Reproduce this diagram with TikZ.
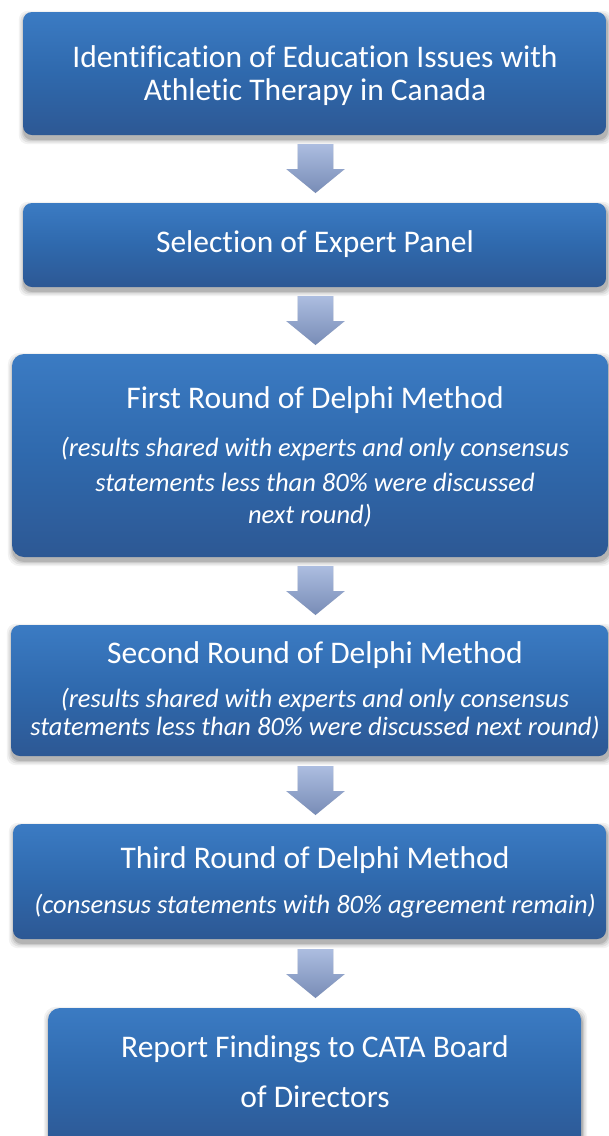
\documentclass[tikz,border=0pt]{standalone}
\usepackage{fontspec}
\setmainfont{Carlito}[Ligatures=NoCommon]

\definecolor{boxtop}{RGB}{59,123,195}
\definecolor{boxmid}{RGB}{47,105,173}
\definecolor{boxbot}{RGB}{45,88,148}
\definecolor{arrtop}{RGB}{172,189,224}
\definecolor{arrbot}{RGB}{120,140,182}

\pgfdeclareverticalshading{boxshade}{100bp}{color(0bp)=(boxbot); color(25bp)=(boxbot); color(50bp)=(boxmid); color(75bp)=(boxtop); color(100bp)=(boxtop)}
\pgfdeclareverticalshading{arrshade}{100bp}{color(0bp)=(arrbot); color(25bp)=(arrbot); color(75bp)=(arrtop); color(100bp)=(arrtop)}

\pgfdeclarelayer{shadowlayer}
\pgfsetlayers{shadowlayer,main}

\tikzset{
  stepbox/.style={rectangle, rounded corners=9pt, shading=boxshade, draw=none, inner sep=0pt},
  title/.style={text=white, font=\fontsize{31.5}{38}\selectfont, inner sep=0pt},
  note/.style={text=white, font=\fontsize{26.5}{32}\selectfont\itshape, inner sep=0pt},
}

% soft shadow under a named node
\newcommand\softshadow[2]{%
  \foreach \g/\o in {5/0.05,3.5/0.07,2/0.09,0.8/0.12}{
    \fill[black, opacity=\o, rounded corners=#2]
      ([xshift=-\g pt+1pt, yshift=-\g pt-4pt]#1.south west) rectangle
      ([xshift=\g pt+1pt, yshift=\g pt-4pt]#1.north east);
  }}

% block arrow pointing down, hanging from a named coordinate (top centre)
\newcommand\blockarrow[1]{%
  (#1) ++(-17.8,0) -- ++(35.6,0) -- ++(0,25) -- ++(11.5,0) -- ++(-29.3,24)
  -- ++(-29.3,-24) -- ++(11.5,0) -- cycle}

\begin{document}
\begin{tikzpicture}[x=1pt, y=-1pt]
\useasboundingbox (0,0) rectangle (609,1136);
\clip (0,0) rectangle (609,1136);

% process boxes
\node[stepbox, minimum width=583pt, minimum height=123pt] (b1) at (314.5,73.5) {};
\node[stepbox, minimum width=583pt, minimum height=84pt]  (b2) at (314.5,245) {};
\node[stepbox, rounded corners=12pt, minimum width=596pt, minimum height=203pt] (b3) at (310,455.5) {};
\node[stepbox, minimum width=597pt, minimum height=131pt] (b4) at (309.5,690.5) {};
\node[stepbox, minimum width=593pt, minimum height=115pt] (b5) at (309.5,881.5) {};
\node[stepbox, rounded corners=12pt, minimum width=533pt, minimum height=140pt] (b6) at (314.5,1078) {};

% arrows between the steps
\coordinate (a1) at (315.5,144);
\coordinate (a2) at (315.5,296);
\coordinate (a3) at (315.5,566);
\coordinate (a4) at (315.5,766);
\coordinate (a5) at (315.5,949);
\foreach \a in {a1,a2,a3,a4,a5}{
  \shade[shading=arrshade] \blockarrow{\a};
}

\begin{pgfonlayer}{shadowlayer}
  \softshadow{b1}{9pt}
  \softshadow{b2}{9pt}
  \softshadow{b3}{12pt}
  \softshadow{b4}{9pt}
  \softshadow{b5}{9pt}
  \softshadow{b6}{12pt}
  \foreach \a in {a1,a2,a3,a4,a5}{
    \foreach \s/\o in {3/0.06,1.8/0.08}{
      \fill[black, opacity=\o, xshift=\s pt, yshift=-\s pt] \blockarrow{\a};
    }
  }
\end{pgfonlayer}

% texts
\node[title] (t1a) at (315,57) {Identification of Education Issues with};
\node[title] (t1b) at (315,92) {Athletic Therapy in Canada};
\node[title] (t2) at (315,244) {Selection of Expert Panel};
\node[title] (t3) at (315,400) {First Round of Delphi Method};
\node[note] (n3a) at (315,449) {(results shared with experts and only consensus};
\node[note] (n3b) at (315,482) {statements less than 80\% were discussed};
\node[note] (n3c) at (310,516) {next round)};
\node[title] (t4) at (315,655) {Second Round of Delphi Method};
\node[note] (n4a) at (315,700) {(results shared with experts and only consensus};
\node[note] (n4b) at (315,728) {statements less than 80\% were discussed next round)};
\node[title] (t5) at (315,860) {Third Round of Delphi Method};
\node[note] (n5) at (315,906) {(consensus statements with 80\% agreement remain)};
\node[title] (t6a) at (315,1049) {Report Findings to CATA Board};
\node[title] (t6b) at (315,1097) {of Directors};
\end{tikzpicture}
\end{document}
